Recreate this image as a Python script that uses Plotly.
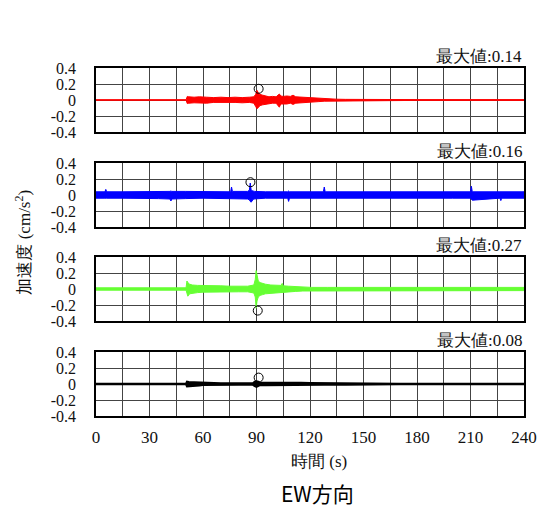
import plotly.graph_objects as go

# ---------------- data (amplitude envelopes) ----------------
t_red = [0, 50.5, 51.2, 52, 55, 58, 62, 66, 70, 74, 78, 82, 86, 88.5, 89.5, 90.3, 91, 92, 93.5, 95,
         97, 99, 101, 102.8, 103.6, 105, 107, 109, 110.5, 112, 115, 118, 121, 125, 128, 131, 135, 140, 150, 160,
         180, 240]
up_red = [0.004, 0.004, 0.045, 0.04, 0.035, 0.04, 0.035, 0.03, 0.035, 0.03,
          0.035, 0.03, 0.035, 0.04, 0.07, 0.12, 0.09, 0.07, 0.06, 0.05,
          0.04, 0.045, 0.04, 0.075, 0.05, 0.045, 0.05, 0.045, 0.06, 0.04,
          0.035, 0.03, 0.025, 0.02, 0.015, 0.012, 0.01, 0.008, 0.006, 0.006,
          0.005, 0.005]
lo_red = [-0.004, -0.004, -0.045, -0.04, -0.035, -0.035, -0.04, -0.03, -0.035, -0.03,
          -0.03, -0.035, -0.03, -0.04, -0.08, -0.11, -0.1, -0.07, -0.06, -0.05,
          -0.045, -0.04, -0.04, -0.09, -0.05, -0.045, -0.05, -0.04, -0.055, -0.04,
          -0.03, -0.03, -0.025, -0.02, -0.015, -0.012, -0.01, -0.008, -0.006, -0.006,
          -0.005, -0.005]

t_blue = [0, 5, 5.5, 6, 15, 25, 35, 41.5, 42, 42.5,
          50, 60, 75.5, 76, 76.5, 85, 86, 86.5, 87, 88,
          88.5, 89, 95, 107.5, 108, 108.5, 127.5, 128, 128.5, 140,
          160, 180, 200, 210, 210.5, 211, 226.5, 227, 227.5, 240]
up_blue = [0.04, 0.04, 0.07, 0.04, 0.04, 0.04, 0.045, 0.045, 0.05, 0.045,
           0.045, 0.04, 0.04, 0.1, 0.045, 0.045, 0.06, 0.15, 0.06, 0.05,
           0.05, 0.045, 0.04, 0.04, 0.05, 0.04, 0.04, 0.1, 0.04, 0.04,
           0.04, 0.04, 0.04, 0.04, 0.11, 0.04, 0.04, 0.04, 0.04, 0.04]
lo_blue = [-0.04, -0.04, -0.045, -0.04, -0.04, -0.04, -0.045, -0.05, -0.075, -0.05,
           -0.045, -0.04, -0.04, -0.045, -0.045, -0.05, -0.06, -0.08, -0.09, -0.06,
           -0.05, -0.045, -0.04, -0.04, -0.08, -0.04, -0.04, -0.045, -0.04, -0.04,
           -0.04, -0.04, -0.04, -0.04, -0.045, -0.065, -0.04, -0.07, -0.04, -0.04]

t_green = [0, 50.5, 51, 51.5, 52.5, 54, 57, 60, 65, 70,
           75, 80, 85, 88.5, 89.3, 89.8, 90.3, 91, 92, 93.5,
           95, 98, 101, 103.8, 104.4, 105, 108, 112, 116, 121,
           130, 150, 180, 210, 240]
up_green = [0.015, 0.015, 0.1, 0.08, 0.06, 0.05, 0.045, 0.045, 0.04, 0.04,
            0.035, 0.035, 0.035, 0.05, 0.12, 0.23, 0.15, 0.1, 0.08, 0.07,
            0.06, 0.05, 0.045, 0.045, 0.07, 0.04, 0.035, 0.03, 0.025, 0.02,
            0.02, 0.02, 0.02, 0.02, 0.02]
lo_green = [-0.015, -0.015, -0.06, -0.09, -0.06, -0.05, -0.045, -0.04, -0.04, -0.035,
            -0.035, -0.035, -0.035, -0.05, -0.1, -0.24, -0.15, -0.1, -0.08, -0.07,
            -0.06, -0.05, -0.045, -0.045, -0.04, -0.04, -0.035, -0.03, -0.025, -0.02,
            -0.02, -0.02, -0.02, -0.02, -0.02]

t_black = [0, 50.5, 51, 52, 55, 58, 60, 65, 70, 80,
           88, 89, 90, 91, 92, 95, 100, 104, 106, 110,
           115, 120, 128, 140, 150, 165, 170, 240]
up_black = [0.004, 0.004, 0.03, 0.025, 0.022, 0.018, 0.012, 0.01, 0.008, 0.008,
            0.01, 0.03, 0.035, 0.03, 0.015, 0.015, 0.015, 0.022, 0.022, 0.02,
            0.015, 0.012, 0.01, 0.008, 0.008, 0.006, 0.004, 0.004]
lo_black = [-0.004, -0.004, -0.03, -0.025, -0.022, -0.018, -0.012, -0.01, -0.008, -0.008,
            -0.01, -0.025, -0.035, -0.03, -0.015, -0.015, -0.018, -0.022, -0.02, -0.02,
            -0.015, -0.012, -0.01, -0.008, -0.008, -0.006, -0.004, -0.004]

max_t = [91.2, 86.6, 90.7, 91.2]
max_v = [0.14, 0.16, -0.27, 0.08]
max_labels = ["最大値:0.14", "最大値:0.16", "最大値:0.27", "最大値:0.08"]

x_ticks = [0, 30, 60, 90, 120, 150, 180, 210, 240]
y_ticks = [-0.4, -0.2, 0, 0.2, 0.4]
y_tick_text = ["-0.4", "-0.2", "0", "0.2", "0.4"]

# ---------------- figure ----------------
series = [
    (t_red, up_red, lo_red, "#ff0000", 1),
    (t_blue, up_blue, lo_blue, "#0000ff", 1),
    (t_green, up_green, lo_green, "#66ff33", 1),
    (t_black, up_black, lo_black, "#000000", 2),
]

W, H = 549, 507
L, R, T, B = 96, 16, 68, 91
ph = H - T - B
panel_px = [(68, 132), (163, 227), (257, 321), (352, 416)]

fig = go.Figure()
serif = "Liberation Serif, DejaVu Serif, serif"

grid_vals = list(range(0, 241, 15))
grid_text = [str(v) if v in x_ticks else " " for v in grid_vals]

for i, (t, up, lo, col, lw) in enumerate(series):
    n = i + 1
    xa = "x" if n == 1 else f"x{n}"
    ya = "y" if n == 1 else f"y{n}"
    fig.add_trace(go.Scatter(
        x=t + t[::-1], y=up + lo[::-1], mode="lines", fill="toself",
        fillcolor=col, line=dict(color=col, width=lw), xaxis=xa, yaxis=ya,
        showlegend=False, hoverinfo="skip"))
    fig.add_trace(go.Scatter(
        x=[max_t[i]], y=[max_v[i]], mode="markers",
        marker=dict(symbol="circle-open", size=9, color="black", line=dict(width=1)),
        xaxis=xa, yaxis=ya, showlegend=False))

    top_px, bot_px = panel_px[i]
    d0 = (H - B - bot_px) / ph
    d1 = (H - B - top_px) / ph
    xkey = "xaxis" if n == 1 else f"xaxis{n}"
    ykey = "yaxis" if n == 1 else f"yaxis{n}"
    fig.layout[xkey] = dict(
        domain=[0, 1], anchor=ya, range=[0, 240],
        tickvals=grid_vals, ticktext=grid_text, showticklabels=(n == 4),
        ticks="", showgrid=True, gridcolor="#444444", gridwidth=1,
        showline=True, mirror=True, linecolor="black", linewidth=1.5,
        zeroline=False, tickfont=dict(family=serif, size=17, color="#111"),
        ticklabelstandoff=5,
    )
    fig.layout[ykey] = dict(
        domain=[d0, d1], anchor=xa, range=[-0.4, 0.4],
        tickvals=y_ticks, ticktext=y_tick_text, ticks="",
        showgrid=True, gridcolor="#444444", gridwidth=1,
        showline=True, mirror=True, linecolor="black", linewidth=1.5,
        zeroline=False, tickfont=dict(family=serif, size=16, color="#111"),
        ticklabelstandoff=15,
    )
    fig.add_annotation(
        text=max_labels[i], xref="paper", yref="paper",
        x=1, y=d1, xanchor="right", yanchor="bottom", yshift=0,
        showarrow=False, font=dict(family=serif, size=17, color="#111"))

fig.add_annotation(text="加速度 (cm/s<sup>2</sup>)", xref="paper", yref="paper",
                   x=(21 - L) / (W - L - R), y=0.5, textangle=-90,
                   xanchor="center", yanchor="middle", showarrow=False,
                   font=dict(family=serif, size=17, color="#111"))
fig.add_annotation(text="時間 (s)", xref="paper", yref="paper",
                   x=(324 - L) / (W - L - R), y=(H - B - 461) / ph,
                   xanchor="center", yanchor="middle", showarrow=False,
                   font=dict(family=serif, size=17, color="#111"))
fig.add_annotation(text="EW方向", xref="paper", yref="paper",
                   x=(322 - L) / (W - L - R), y=(H - B - 493) / ph,
                   xanchor="center", yanchor="middle", showarrow=False,
                   font=dict(family="Noto Sans CJK JP", size=21, color="black"))

fig.update_layout(
    width=W, height=H, margin=dict(l=L, r=R, t=T, b=B),
    paper_bgcolor="white", plot_bgcolor="white", showlegend=False,
    font=dict(family=serif),
)

fig.write_html("out.html", config={"displayModeBar": False},
               post_script="document.body.style.margin='0px';document.body.style.padding='0px';")
